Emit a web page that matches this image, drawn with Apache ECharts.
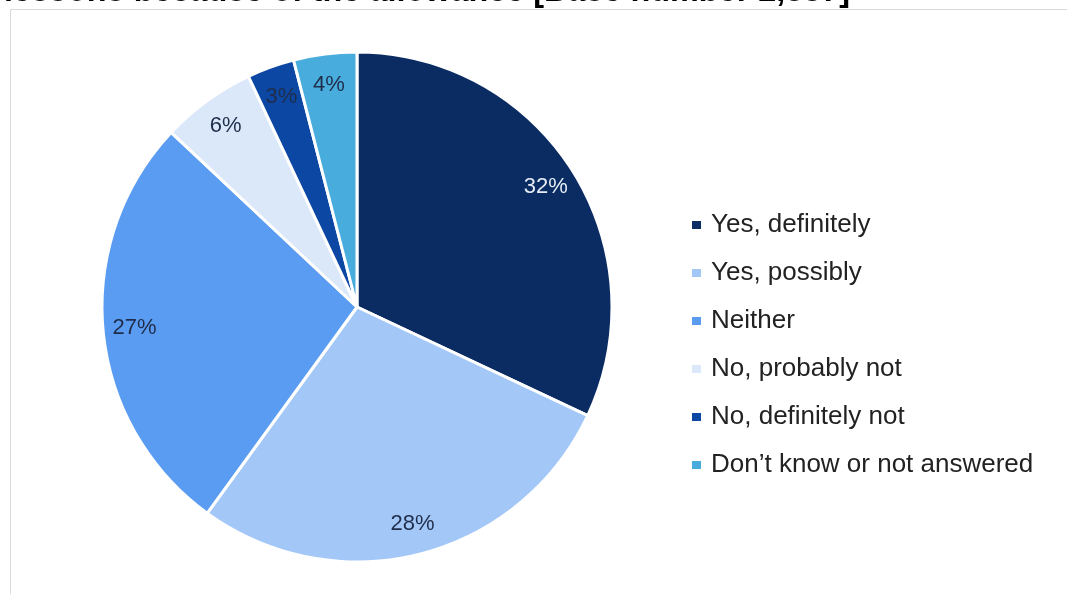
<!DOCTYPE html>
<html><head><meta charset="utf-8">
<script src="https://cdn.jsdelivr.net/npm/echarts@6/dist/echarts.min.js"></script>
<style>html,body{margin:0;padding:0;background:#fff}#c{width:1067px;height:594px}</style>
</head><body><div id="c"></div>
<script>
const titleText = 'lessons because of the allowance [Base number 2,387]';
const categories = ['Yes, definitely','Yes, possibly','Neither','No, probably not','No, definitely not','Don\u2019t know or not answered'];
const values = [32, 28, 27, 6, 3, 4];
const colors = ['#0a2c63','#a3c8f8','#5a9cf2','#dbe8fa','#0b47a3','#48acdc'];
const labelColors = ['#e6ecf5','#1f2d4a','#1f2d4a','#1f2d4a','#1f2d4a','#1f2d4a'];

const chart = echarts.init(document.getElementById('c'), null, {renderer:'canvas'});
const baseData = categories.map((c,i)=>({name:c, value:values[i], itemStyle:{color:colors[i]}}));
const labelData = categories.map((c,i)=>({name:c, value:values[i], label:{color:labelColors[i]}}));
chart.setOption({
  animation:false,
  title:{text:titleText,left:-1,top:-29,textStyle:{fontFamily:'Liberation Sans',fontWeight:'bold',fontSize:32.4,color:'#000'}},
  graphic:[{type:'rect',shape:{x:10.5,y:9.5,width:1100,height:700},style:{fill:'none',stroke:'#d9d9d9',lineWidth:1},z:-1}],
  legend:{orient:'vertical',left:685,top:207,itemWidth:11,itemHeight:10,itemGap:22,icon:'rect',
    data:categories,
    textStyle:{fontFamily:'Liberation Sans',fontSize:26,color:'#222',padding:[0,0,0,4]}},
  series:[
    {type:'pie',center:[357,307],radius:[0,255],startAngle:90,clockwise:true,data:baseData,
     label:{show:false},labelLine:{show:false},itemStyle:{borderColor:'#fff',borderWidth:3},emphasis:{disabled:true},silent:true},
    {type:'pie',center:[357,307],radius:[186,255],startAngle:90,clockwise:true,data:labelData,
     itemStyle:{color:'rgba(0,0,0,0)'},legendHoverLink:false,silent:true,emphasis:{disabled:true},
     label:{show:true,position:'inside',formatter:'{c}%',fontFamily:'Liberation Sans',fontSize:22},labelLine:{show:false}}
  ]
});
</script></body></html>
